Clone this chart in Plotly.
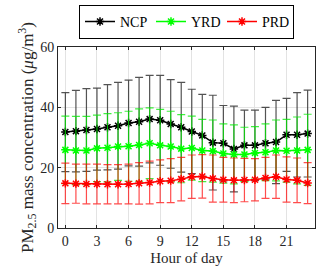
import plotly.graph_objects as go

hours = list(range(24))
ncp = [31.8, 32.1, 32.5, 32.8, 33.4, 33.9, 34.8, 35.2, 36.1, 35.7, 34.5, 33.4,
       32.0, 30.7, 28.3, 28.1, 26.2, 27.4, 27.4, 28.1, 28.5, 30.9, 30.9, 31.3]
ncp_err = [13.1, 13.5, 13.7, 13.6, 14.1, 14.4, 14.2, 14.7, 14.5, 14.9, 14.7, 14.9,
           14.0, 13.6, 15.7, 12.5, 14.2, 11.7, 11.7, 11.9, 13.8, 12.1, 14.0, 14.4]
yrd = [25.9, 25.7, 25.7, 26.4, 26.6, 27.0, 27.1, 27.5, 28.1, 27.4, 27.0, 26.3,
       26.5, 25.7, 25.5, 24.7, 24.4, 24.4, 24.9, 25.1, 25.7, 25.6, 25.7, 25.9]
yrd_err = [11.2, 11.3, 11.3, 11.0, 11.3, 11.2, 11.6, 12.0, 11.7, 11.9, 11.7, 11.3,
           10.6, 10.3, 10.3, 9.8, 9.8, 9.0, 8.7, 9.4, 10.1, 10.4, 11.1, 11.8]
prd = [14.8, 14.7, 14.6, 14.6, 14.5, 14.5, 14.6, 14.8, 15.1, 15.5, 15.7, 16.2,
       17.0, 17.1, 16.4, 16.0, 15.8, 15.9, 16.0, 16.6, 17.0, 16.1, 15.8, 14.9]
prd_err = [6.7, 6.5, 6.6, 6.6, 6.5, 6.5, 6.6, 6.9, 7.1, 7.1, 7.3, 7.2,
           7.2, 7.2, 7.8, 7.4, 7.4, 7.2, 7.0, 6.8, 7.2, 7.5, 7.4, 6.8]

series = [
    ("NCP", ncp, ncp_err, "black", "rgba(40,40,40,0.8)"),
    ("YRD", yrd, yrd_err, "#00ff00", "rgba(0,235,0,0.75)"),
    ("PRD", prd, prd_err, "#ff0000", "rgba(255,0,0,0.7)"),
]

fig = go.Figure()
for name, vals, err, col, ecol in series:
    fig.add_trace(go.Scatter(
        x=hours, y=vals, name=name, mode="lines+markers",
        line=dict(color=col, width=1.5),
        marker=dict(symbol="asterisk-open", size=7, color=col, line=dict(color=col, width=1.5)),
        error_y=dict(type="data", array=err, visible=True, color=ecol, thickness=1.2, width=4),
    ))

font = "Liberation Serif"
fig.update_layout(
    width=320, height=278,
    margin=dict(l=58, r=5, t=40, b=50),
    paper_bgcolor="white", plot_bgcolor="white",
    font=dict(family=font, size=14, color="#262626"),
    showlegend=True,
    legend=dict(orientation="h", x=0.5, xanchor="center", y=1.045, yanchor="bottom",
                bordercolor="black", borderwidth=1, bgcolor="white",
                font=dict(family=font, size=14, color="black"),
                itemwidth=30, tracegroupgap=0, entrywidth=26),
    xaxis=dict(range=[-0.7, 23.7], tickvals=[0, 3, 6, 9, 12, 15, 18, 21],
               showgrid=True, gridcolor="#e3e3e3", gridwidth=1,
               showline=True, linecolor="#262626", linewidth=1, mirror="ticks",
               ticks="inside", ticklen=3, tickcolor="#262626", automargin=False,
               zeroline=False, tickfont=dict(family=font, size=14),
               title=dict(text="Hour of day", font=dict(family=font, size=15), standoff=4)),
    yaxis=dict(range=[0, 60], tickvals=[0, 20, 40, 60],
               showgrid=True, gridcolor="#e3e3e3", gridwidth=1,
               showline=True, linecolor="#262626", linewidth=1, mirror="ticks",
               ticks="inside", ticklen=3, tickcolor="#262626", automargin=False,
               zeroline=False, tickfont=dict(family=font, size=14),
               title=dict(text="PM<sub>2.5</sub> mass concentration (<i>μ</i>g/m<sup>3</sup>)",
                          font=dict(family=font, size=17), standoff=2)),
)
fig.write_html("out.html", config={"displayModeBar": False},
               post_script="document.body.style.margin='0';")
